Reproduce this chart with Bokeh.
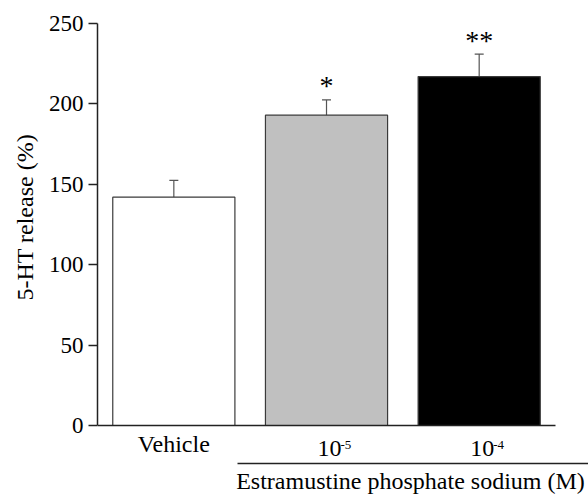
from bokeh.plotting import figure
from bokeh.models import (ColumnDataSource, Range1d, FixedTicker, LinearAxis,
                          Whisker, TeeHead, Title)
from bokeh.core.properties import value
from bokeh.embed import file_html
from bokeh.resources import INLINE

# ---- data ----
groups = ["Vehicle", "10", "10"]
group_sup = ["", "-5", "-4"]
means = [142, 193, 217]
sems = [10.5, 9.5, 14]
stars = ["", "*", "**"]
fills = ["#ffffff", "#c0c0c0", "#000000"]
y_ticks = [0, 50, 100, 150, 200, 250]
y_title = "5-HT release (%)"
x_title = "Estramustine phosphate sodium (M)"

FONT = "Liberation Serif"
FS = "24px"
AX = "#222222"

xpos = [i + 0.5 for i in range(len(groups))]
upper = [m + s for m, s in zip(means, sems)]
src = ColumnDataSource(dict(x=xpos, top=means, upper=upper, fill=fills, star=stars))

p = figure(width=588, height=495, output_backend="svg", toolbar_location=None,
           x_range=Range1d(0, 3.216), y_range=Range1d(-43.53, 250),
           min_border_left=97, min_border_right=0, min_border_top=23,
           min_border_bottom=0, x_axis_type=None, y_axis_type=None)
p.outline_line_color = None
p.xgrid.visible = False
p.ygrid.visible = False
p.background_fill_color = "white"
p.border_fill_color = "white"

p.vbar(x="x", top="top", bottom=0, width=0.8, source=src, fill_color="fill",
       line_color="#3a3a3a", line_width=1.2)

wh = Whisker(base="x", lower="top", upper="upper", source=src,
             line_color="#555555", line_width=1.2,
             upper_head=TeeHead(size=9, line_color="#555555", line_width=1.2),
             lower_head=None)
p.add_layout(wh)

p.text(x="x", y="upper", text="star", source=src, text_align="center",
       text_baseline="alphabetic", y_offset=-14, text_font=value(FONT),
       text_font_size="28px", text_color="black")

# category labels: "Vehicle" and the concentrations 10^-5, 10^-4
p.text(x=xpos[:1], y=[-11.4], text=groups[:1], text_align="center",
       text_baseline="alphabetic", text_font=value(FONT),
       text_font_size=FS, text_color="black")
p.text(x=xpos[1:], y=[-14.5] * 2, text=groups[1:], x_offset=3,
       text_align="center", text_baseline="alphabetic", text_font=value(FONT),
       text_font_size=FS, text_color="black")
p.text(x=xpos[1:], y=[-12.3] * 2, text=group_sup[1:], x_offset=14,
       text_align="left", text_baseline="alphabetic", text_font=value(FONT),
       text_font_size="13px", text_color="black")

# group title under the bracket
p.text(x=[2.05], y=[-34.6], text=[x_title], text_align="center",
       text_baseline="alphabetic", text_font=value(FONT),
       text_font_size=FS, text_color="black")

# y axis
yax = LinearAxis(ticker=FixedTicker(ticks=y_ticks), bounds=(0, 250))
yax.axis_line_color = AX
yax.axis_line_width = 1.5
yax.major_tick_line_color = AX
yax.major_tick_line_width = 1.5
yax.major_tick_out = 9
yax.major_tick_in = 0
yax.minor_tick_line_color = None
yax.minor_tick_out = 0
yax.major_label_standoff = 5
yax.major_label_text_font = FONT
yax.major_label_text_font_size = "23px"
yax.major_label_text_color = "black"
p.add_layout(yax, "left")

ytitle = Title(text=y_title, align="left", offset=195, standoff=16,
               text_font=FONT, text_font_size=FS, text_font_style="normal",
               text_color="black")
p.add_layout(ytitle, "left")


def line_axis(loc, bounds):
    ax = LinearAxis(ticker=FixedTicker(ticks=[]), bounds=bounds, fixed_location=loc)
    ax.axis_line_color = AX
    ax.axis_line_width = 1.5
    ax.major_tick_line_color = None
    ax.minor_tick_line_color = None
    ax.major_tick_out = 0
    ax.minor_tick_out = 0
    ax.major_label_standoff = 0
    ax.major_label_text_font_size = "0px"
    return ax


# baseline of the bars (y = 0) and bracket over the treatment groups
p.add_layout(line_axis(0, (0, 3)), "below")
p.add_layout(line_axis(-23.63, (0.917, 3.216)), "below")

open("out.html", "w").write(file_html(p, INLINE))
